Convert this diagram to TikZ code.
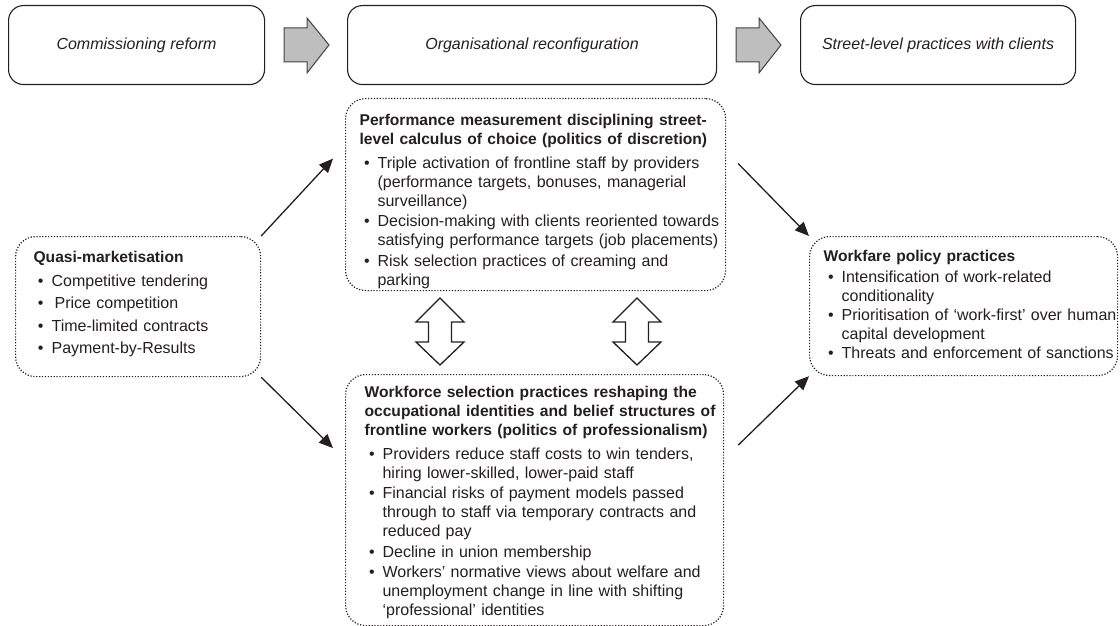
\documentclass[tikz,border=0pt]{standalone}
\usepackage{fontspec}
\setmainfont{Liberation Sans}
\usepackage{enumitem}
\usetikzlibrary{arrows.meta}

\definecolor{inkgray}{HTML}{231F20}
\definecolor{arrowfill}{HTML}{BEBEBE}

\newlist{points}{itemize}{1}
\setlist[points]{label=\textbullet, leftmargin=18pt, rightmargin=-40pt, labelsep=8pt, topsep=4.5pt, partopsep=0pt, parsep=0pt, itemsep=1.5pt}
\newcommand{\paneltitle}[1]{{\advance\hsize by 40pt\fontsize{15.6}{19}\selectfont\bfseries #1\par}}

\tikzset{
  stage/.style={draw=inkgray, line width=1.1pt, rounded corners=15pt, anchor=north west, inner sep=0pt,
    minimum height=79pt, text=inkgray, font=\fontsize{16}{19}\selectfont\itshape},
  panel/.style={draw=inkgray, line width=1.2pt, dash pattern=on 1.2pt off 1.7pt, rounded corners=20pt,
    anchor=north west, align=left, inner ysep=0pt, text=inkgray, font=\fontsize{16}{19}\selectfont},
  link/.style={-{Triangle[length=14pt,width=12pt]}, line width=1.3pt, draw=inkgray},
  flowarrow/.style={draw=inkgray!85, fill=arrowfill, line width=1pt},
  twoway/.style={draw=inkgray, fill=white, line width=1.3pt}
}

\begin{document}
\begin{tikzpicture}[x=1pt,y=-1pt]
\useasboundingbox (0,0) rectangle (1120,626);

% stages
\node[stage, minimum width=256pt] (reform) at (8,5) {Commissioning reform};
\node[stage, minimum width=369pt] (reconfig) at (347,5) {Organisational reconfiguration};
\node[stage, minimum width=275pt] (street) at (800,5) {Street-level practices with clients};

\foreach \dx in {0,452}
  \draw[flowarrow, shift={(\dx,0)}] (284,28) -- (307,28) -- (307,18) -- (329,45) -- (307,73) -- (307,62) -- (284,62) -- cycle;

% panels
\node[panel, minimum width=245pt, minimum height=140pt, text height=26pt, text depth=114pt,
  inner xsep=18pt, text width=209pt] (quasi) at (15,236) {%
  \paneltitle{Quasi-marketisation}
  \begin{points}[itemsep=3.5pt]
  \item Competitive tendering
  \item \hspace{3pt}Price competition
  \item Time-limited contracts
  \item Payment-by-Results
  \end{points}};

\node[panel, minimum width=380pt, minimum height=192pt, text height=27pt, text depth=165pt,
  inner xsep=14pt, text width=352pt] (perf) at (345,98) {%
  \paneltitle{Performance measurement disciplining street-\\level calculus of choice (politics of discretion)}
  \begin{points}
  \item Triple activation of frontline staff by providers\\(performance targets, bonuses, managerial\\surveillance)
  \item Decision-making with clients reoriented towards\\satisfying performance targets (job placements)
  \item Risk selection practices of creaming and\\parking
  \end{points}};

\node[panel, minimum width=378pt, minimum height=251pt, text height=23pt, text depth=228pt,
  inner xsep=19pt, text width=340pt] (wf) at (345,374) {%
  \paneltitle{Workforce selection practices reshaping the\\occupational identities and belief structures of\\frontline workers (politics of professionalism)}
  \begin{points}
  \item Providers reduce staff costs to win tenders,\\hiring lower-skilled, lower-paid staff
  \item Financial risks of payment models passed\\through to staff via temporary contracts and\\reduced pay
  \item Decline in union membership
  \item Workers’ normative views about welfare and\\unemployment change in line with shifting\\‘professional’ identities
  \end{points}};

\node[panel, minimum width=308pt, minimum height=139pt, text height=25pt, text depth=114pt,
  inner xsep=14pt, text width=280pt] (wpp) at (809,236) {%
  \paneltitle{Workfare policy practices}
  \begin{points}[topsep=1.5pt, itemsep=0pt]
  \item Intensification of work-related\\conditionality
  \item Prioritisation of ‘work-first’ over human\\capital development
  \item Threats and enforcement of sanctions
  \end{points}};

\foreach \cx in {440,637}
  \draw[twoway] (\cx,298) -- (\cx+24,322) -- (\cx+11.5,322) -- (\cx+11.5,342) -- (\cx+24,342) -- (\cx,365)
    -- (\cx-24,342) -- (\cx-11.5,342) -- (\cx-11.5,322) -- (\cx-24,322) -- cycle;

% links
\draw[link] (quasi.north east) -- ([xshift=-12pt,yshift=36pt]perf.west);
\draw[link] (quasi.south east) -- ([xshift=-12pt,yshift=52pt]wf.west);
\draw[link] ([xshift=12pt,yshift=31pt]perf.east) -- (wpp.north west);
\draw[link] ([xshift=14pt,yshift=55pt]wf.east) -- (wpp.south west);
\end{tikzpicture}
\end{document}
